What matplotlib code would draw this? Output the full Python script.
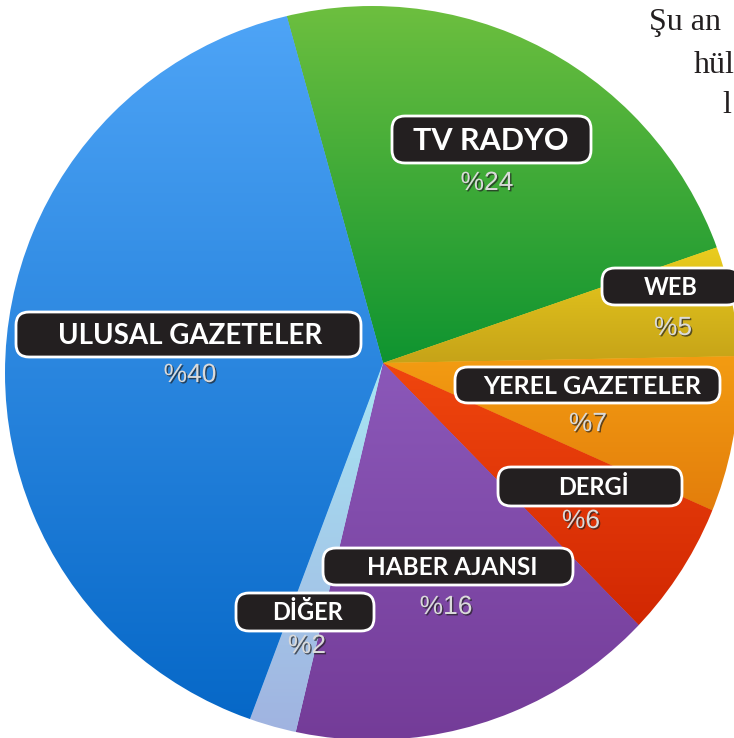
import numpy as np
import matplotlib
matplotlib.use("Agg")
import matplotlib.pyplot as plt
import matplotlib.patheffects as pe
from matplotlib.patches import FancyBboxPatch, Wedge
from matplotlib.colors import LinearSegmentedColormap

# data
categories = ["TV RADYO", "WEB", "YEREL GAZETELER", "DERGİ",
              "HABER AJANSI", "DİĞER", "ULUSAL GAZETELER"]
shares = [24, 5, 7, 6, 16, 2, 40]
pct_labels = ["%" + str(s) for s in shares]

# gradient colours per slice (top, bottom)
top_colors = ["#6dbf3f", "#f2d620", "#f39c12", "#f0460e", "#8b58b9", "#a8e6f4", "#4fa5f7"]
bottom_colors = ["#0f9430", "#c6a318", "#e0780a", "#cc2200", "#743c98", "#a0b2e0", "#0466c6"]

W, H = 734, 738
apex_x, apex_y = 383, 363          # where the slices meet (pixel coords, y from top)
rim_x, rim_y, rim_r = 372, 373, 367  # outline of the (slightly off-centre) disc

# label layout in image pixel coords: box x0, x1, y0, y1, text x, pct x, pct y, fontsize
box_layout = [
    (392, 591, 116, 163, 491, 487, 183, 22),
    (602, 740, 268, 305, 671, 673, 328, 17),
    (455, 720, 367, 403, 592, 588, 424, 18),
    (498, 682, 467, 506, 593, 581, 521, 17),
    (323, 573, 548, 585, 452, 446, 607, 17.5),
    (236, 374, 593, 631, 307, 307, 646, 17),
    (16, 361, 312, 357, 190, 190, 375, 20),
]

fig = plt.figure(figsize=(W / 100, H / 100), dpi=100)
ax = fig.add_axes([0, 0, 1, 1])

wedges, _ = ax.pie(shares, colors=top_colors, startangle=105.5, counterclock=False,
                   center=(apex_x, H - apex_y), radius=430, wedgeprops=dict(linewidth=0))

# glossy vertical gradient inside each slice
grad = np.linspace(0, 1, 256).reshape(-1, 1)
for w, ct, cb in zip(wedges, top_colors, bottom_colors):
    ext = w.get_path().get_extents()
    y0 = max(ext.y0, H - rim_y - rim_r)
    y1 = min(ext.y1, H - rim_y + rim_r)
    cmap = LinearSegmentedColormap.from_list("g", [cb, ct])
    im = ax.imshow(grad, extent=[ext.x0, ext.x1, y0, y1], origin="lower",
                   cmap=cmap, aspect="auto", zorder=1, interpolation="bilinear")
    im.set_clip_path(w)

# white mask outside the disc outline
ax.add_patch(Wedge((rim_x, H - rim_y), 2000, 0, 360, width=2000 - rim_r,
                   fc="white", ec="none", zorder=3))

ax.set_xlim(0, W)
ax.set_ylim(0, H)
ax.set_aspect("auto")
ax.axis("off")

lab_font = ["Lato", "DejaVu Sans"]
for name, pct, lay in zip(categories, pct_labels, box_layout):
    x0, x1, y0, y1, tx, px, py, fs = lay
    box = FancyBboxPatch((x0, H - y1), x1 - x0, y1 - y0,
                         boxstyle="round,pad=0,rounding_size=13",
                         fc="#231f20", ec="white", lw=2.0, zorder=5)
    ax.add_patch(box)
    ax.text(tx, H - (y0 + y1) / 2 - 1, name, color="white", fontsize=fs,
            fontweight="bold", family=lab_font, ha="center", va="center", zorder=6)
    ax.text(px, H - py, pct, color="#dadada", fontsize=19, family="Liberation Sans",
            ha="center", va="center", zorder=6,
            path_effects=[pe.SimplePatchShadow(offset=(1, -1), shadow_rgbFace="#222222", alpha=0.7),
                          pe.Normal()])

# surrounding page text at the right edge
serif = "Liberation Serif"
ax.text(649, H - 30, "Şu an", fontsize=23, family=serif, color="#231f20", va="baseline", zorder=6)
ax.text(694, H - 73, "hül", fontsize=23, family=serif, color="#231f20", va="baseline", zorder=6)
ax.text(722, H - 113, "l", fontsize=23, family=serif, color="#231f20", va="baseline", zorder=6)

fig.savefig("out.png", dpi=100, facecolor="white")
